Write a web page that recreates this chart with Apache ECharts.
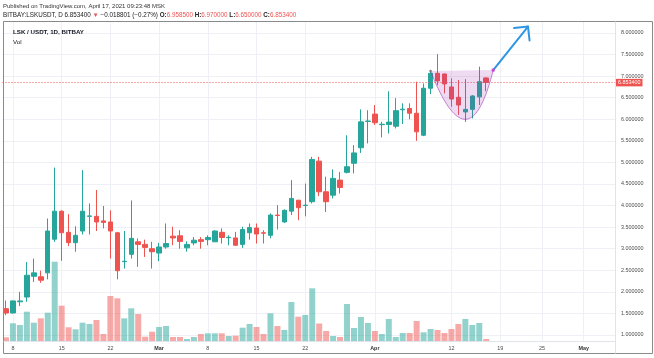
<!DOCTYPE html>
<html><head><meta charset="utf-8">
<script src="https://cdn.jsdelivr.net/npm/echarts@6/dist/echarts.min.js"></script>
<style>html,body{margin:0;padding:0;background:#fff}#c{width:654px;height:358px}</style>
</head><body><div id="c"></div>
<script>
// ---- categories (daily, 2021-02-07 .. 2021-05-05) ----
const firstDay = '2021-02-07', lastDay = '2021-05-05';
const dates = [];
for (let d = new Date(firstDay + 'T00:00:00Z'); d <= new Date(lastDay + 'T00:00:00Z'); d.setUTCDate(d.getUTCDate() + 1)) {
  dates.push(d.toISOString().slice(0, 10));
}
// ---- OHLC series, 2021-02-07 .. 2021-04-17 ----
const opens = [1.61,1.51,1.77,1.88,2.36,2.35,2.44,3.22,3.87,3.38,3.14,3.41,3.75,3.75,3.645,3.62,3.37,2.70,2.87,3.16,3.10,3.00,
  2.90,3.04,3.29,3.30,3.02,3.135,3.21,3.21,3.16,3.38,3.255,3.25,3.10,3.37,3.48,3.37,3.31,3.78,3.62,3.87,4.125,4.00,4.09,5.03,4.32,4.24,4.59,4.77,4.98,5.34,5.95,
  6.12,5.875,5.88,5.84,6.22,6.25,6.14,5.63,6.72,7.065,7.05,6.75,6.51,6.17,6.23,6.52,6.9585];
const closes = [1.51,1.79,1.79,2.385,2.44,2.27,3.41,3.87,3.37,3.14,3.31,3.87,3.76,3.62,3.61,3.41,2.49,2.71,3.24,3.10,3.03,2.93,
  3.04,3.12,3.25,3.17,3.10,3.197,3.17,3.26,3.41,3.26,3.265,3.08,3.445,3.49,3.34,3.36,3.78,3.77,3.89,4.165,3.95,4.01,5.07,4.32,4.09,4.63,4.42,4.90,5.22,5.94,5.96,
  5.92,5.885,5.935,6.20,6.235,6.14,5.71,6.72,7.065,6.89,6.82,6.47,6.33,6.23,6.54,6.872,6.8534];
const lows = [1.46,1.50,1.67,1.77,2.23,2.21,2.29,3.16,2.72,3.06,2.93,3.33,3.33,3.41,3.47,2.77,2.29,2.54,2.77,2.58,2.81,2.54,
  2.71,3.00,3.08,3.00,2.93,3.08,3.00,3.08,3.155,3.12,3.08,3.07,3.02,3.21,3.12,3.12,3.24,3.445,3.60,3.78,3.66,3.75,4.05,4.22,3.85,4.165,4.28,4.745,4.745,5.22,5.44,
  5.87,5.58,5.67,5.79,5.89,6.00,5.50,5.61,6.585,6.79,6.60,6.29,6.10,5.94,6.02,6.33,6.65];
const highs = [1.80,1.80,2.00,2.69,2.77,2.49,3.70,4.88,3.89,3.80,3.52,4.82,4.05,4.36,3.99,3.89,3.39,3.41,4.12,3.24,3.21,3.16,
  3.135,3.585,3.51,3.43,3.17,3.27,3.27,3.31,3.43,3.47,3.31,3.39,3.51,3.585,3.585,3.43,3.82,4.01,3.91,4.59,4.13,4.51,5.13,5.13,4.67,4.84,4.78,5.63,5.40,6.23,6.21,
  6.33,5.94,6.65,6.49,6.37,6.37,6.87,6.83,7.14,7.51,7.06,6.95,6.91,6.93,6.56,7.22,6.97];
// relative volume (estimated)
const volumes = [3.7,17.7,16,29.3,18.3,22.7,28.3,79.3,35.3,13.7,11.7,18.3,17,21,7,45,42.7,22.7,32.7,27,4.3,9.3,
  14,15,4,4,2,4,7,7.7,7.7,7.7,5,5.3,13.3,17,14,7,27.7,15,11,39,24.3,26,52.7,17.5,10,5,4,37,13,24,18,
  10,7,22,4,8,8,20,8.7,12,11,8,12,17,22,16,18,2];
// ---- time-axis tick labels ----
const tickDates = ['2021-02-08','2021-02-15','2021-02-22','2021-03-01','2021-03-08','2021-03-15','2021-03-22','2021-04-01','2021-04-12','2021-04-19','2021-04-25','2021-05-01'];
const tickTexts = ['8','15','22','Mar','8','15','22','Apr','12','19','25','May'];
// ---- price scale ----
const priceTicksMin = 1, priceTicksMax = 8, priceTickStep = 0.5;
const lastPrice = 6.8534;
// ---- drawing anchors (date, price) ----
const cupPoints = [['2021-04-09', 7.12], ['2021-04-14', 6.0], ['2021-04-18', 7.14]];
const arrowPoints = [['2021-04-18', 7.14], ['2021-04-23', 8.15]];

const UP = '#26a69a', DOWN = '#ef5350';
const tickMap = {};
tickDates.forEach((d, i) => tickMap[d] = tickTexts[i]);
const candleData = opens.map((o, i) => [o, closes[i], lows[i], highs[i]]);
const volData = volumes.map((v, i) => ({
  value: v,
  itemStyle: { color: closes[i] >= opens[i] ? 'rgba(38,166,154,0.5)' : 'rgba(239,83,80,0.5)' }
}));

// plot pane: y=21..341 ; price 8 at y=33, 1 at y=335
const pxPerUnit = (335 - 33) / 7;
const paneMax = 8 + (33 - 21) / pxPerUnit;
const paneMin = 8 - (341 - 33) / pxPerUnit;

const chart = echarts.init(document.getElementById('c'), null, { renderer: 'canvas' });
const FONT = 'Liberation Sans, Arial, sans-serif';
const isTick = (idx, val) => tickMap[val] !== undefined;

chart.setOption({
  animation: false,
  backgroundColor: '#ffffff',
  grid: [
    { left: 2.5, right: 39, top: 21, bottom: 17 },
    { left: 2.5, right: 39, top: 33, bottom: 23 }
  ],
  xAxis: [
    { type: 'category', gridIndex: 0, data: dates, boundaryGap: true,
      axisLine: { show: false }, axisTick: { show: false },
      axisLabel: { interval: isTick, margin: 5, fontFamily: FONT, fontSize: 5.4, color: '#4a4a4a',
        formatter: v => { const t = tickMap[v]; return /^[A-Z]/.test(t) ? '{m|' + t + '}' : t; },
        rich: { m: { fontWeight: 'bold', fontSize: 5.4, fontFamily: FONT, color: '#333' } } },
      splitLine: { show: true, interval: isTick, alignWithLabel: true, lineStyle: { color: '#eef0f5', width: 1 } } },
    { type: 'category', gridIndex: 1, data: dates, show: false }
  ],
  yAxis: [
    { type: 'value', gridIndex: 0, min: paneMin, max: paneMax, show: false, splitLine: { show: false } },
    { type: 'value', gridIndex: 0, min: 0, max: 320, show: false, splitLine: { show: false } },
    { type: 'value', gridIndex: 1, min: priceTicksMin, max: priceTicksMax, interval: priceTickStep, position: 'right',
      axisLine: { show: false }, axisTick: { show: false },
      axisLabel: { margin: 6, fontFamily: FONT, fontSize: 5.4, color: '#4a4a4a', formatter: v => v.toFixed(6) },
      splitLine: { show: true, lineStyle: { color: '#eef0f5', width: 1 } } }
  ],
  series: [
    { type: 'bar', xAxisIndex: 0, yAxisIndex: 1, data: volData, barWidth: '86%', z: 1 },
    { type: 'candlestick', xAxisIndex: 0, yAxisIndex: 0, data: candleData, barWidth: '72%', z: 3,
      itemStyle: { color: UP, color0: DOWN, borderColor: UP, borderColor0: DOWN, borderWidth: 1 },
      markLine: { silent: true, symbol: ['none', 'none'], animation: false,
        data: [{ yAxis: lastPrice }],
        lineStyle: { color: DOWN, type: [1, 2], width: 1 },
        label: { position: 'end', distance: 1, formatter: lastPrice.toFixed(6), color: '#fff', backgroundColor: DOWN,
          fontFamily: FONT, fontSize: 5.4, padding: [1.5, 2, 1, 2] } } },
    { type: 'custom', xAxisIndex: 0, yAxisIndex: 0, data: [[0, 0]], z: 5, silent: true,
      renderItem: (params, api) => {
        const pt = p => api.coord([dates.indexOf(p[0]), p[1]]);
        const P0 = pt(cupPoints[0]), B = pt(cupPoints[1]), P2 = pt(cupPoints[2]);
        const C = [2 * B[0] - (P0[0] + P2[0]) / 2, 2 * B[1] - (P0[1] + P2[1]) / 2];
        const curve = [];
        for (let k = 0; k <= 40; k++) {
          const t = k / 40, u = 1 - t;
          curve.push([u * u * P0[0] + 2 * u * t * C[0] + t * t * P2[0], u * u * P0[1] + 2 * u * t * C[1] + t * t * P2[1]]);
        }
        const A0 = pt(arrowPoints[0]), A1 = pt(arrowPoints[1]);
        const ang = Math.atan2(A0[1] - A1[1], A0[0] - A1[0]);
        const L = 14, sp = Math.PI / 4;
        const h1 = [A1[0] + L * Math.cos(ang + sp), A1[1] + L * Math.sin(ang + sp)];
        const h2 = [A1[0] + L * Math.cos(ang - sp), A1[1] + L * Math.sin(ang - sp)];
        return { type: 'group', children: [
          { type: 'polygon', shape: { points: curve }, style: { fill: 'rgba(156,39,176,0.17)', stroke: null } },
          { type: 'polyline', shape: { points: curve }, style: { stroke: 'rgba(156,39,176,0.55)', lineWidth: 1, fill: null } },
          { type: 'polyline', shape: { points: [A0, A1] }, style: { stroke: '#2e96e3', lineWidth: 2, fill: null, lineCap: 'round' } },
          { type: 'polyline', shape: { points: [h1, A1, h2] }, style: { stroke: '#2e96e3', lineWidth: 2, fill: null, lineCap: 'round', lineJoin: 'round' } },
          { type: 'rect', shape: { x: P2[0] - 1.5, y: P2[1] - 1.5, width: 3, height: 3 }, style: { fill: '#c04ad0' } },
          { type: 'circle', shape: { cx: P0[0], cy: P0[1], r: 1.2 }, style: { fill: '#777' } }
        ] };
      } }
  ],
  graphic: [
    { type: 'text', x: 3, y: 6, style: { text: 'Published on TradingView.com, April 17, 2021 09:23:48 MSK', font: '6px ' + FONT, fill: '#333', verticalAlign: 'middle' } },
    { type: 'text', x: 3, y: 15.5, style: {
        text: '{d|BITBAY:LSKUSDT, D 6.853400 }{r|▼}{d| −0.018801 (−0.27%) }{b|O:}{r|6.958500} {b|H:}{r|6.970000} {b|L:}{r|6.650000} {b|C:}{r|6.853400}',
        verticalAlign: 'middle', font: '6.3px ' + FONT,
        rich: {
          d: { fill: '#222', font: '6.3px ' + FONT },
          b: { fill: '#222', font: 'bold 6.3px ' + FONT },
          r: { fill: '#ef5350', font: '6.3px ' + FONT }
        } } },
    { type: 'rect', shape: { x: 3.5, y: 21.5, width: 649, height: 332 }, style: { fill: 'none', stroke: '#8a8a8a', lineWidth: 1 }, z: 10 },
    { type: 'line', shape: { x1: 615.5, y1: 21.5, x2: 615.5, y2: 353.5 }, style: { stroke: '#e0e3eb', lineWidth: 1 }, z: 10 },
    { type: 'line', shape: { x1: 3.5, y1: 341.5, x2: 615.5, y2: 341.5 }, style: { stroke: '#e0e3eb', lineWidth: 1 }, z: 10 },
    { type: 'text', x: 13, y: 32, style: { text: 'LSK / USDT, 1D, BITBAY', font: 'bold 6.2px ' + FONT, fill: '#131722', verticalAlign: 'middle' }, z: 10 },
    { type: 'text', x: 13, y: 42, style: { text: 'Vol', font: '6.2px ' + FONT, fill: '#131722', verticalAlign: 'middle' }, z: 10 }
  ]
});
</script></body></html>
